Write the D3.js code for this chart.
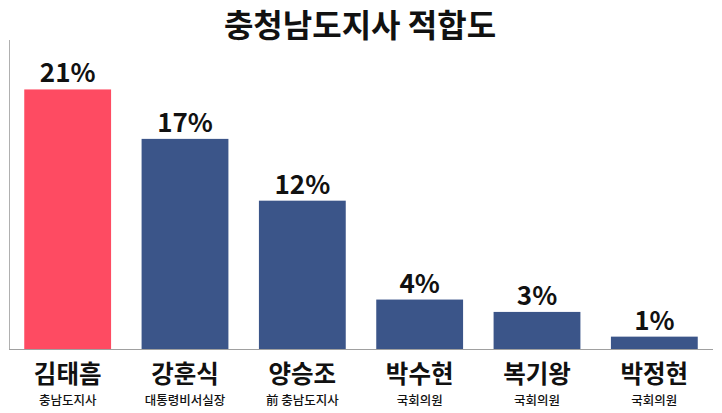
<!DOCTYPE html>
<html><head><meta charset="utf-8">
<script src="https://cdn.jsdelivr.net/npm/d3@7"></script>
<style>body{margin:0;background:#fff}svg{display:block}text{font-family:"Noto Sans CJK KR","Noto Sans",sans-serif}</style>
</head><body><svg id="c" width="722" height="413"></svg>
<script>
const title = "충청남도지사 적합도";
const names = ["김태흠","강훈식","양승조","박수현","복기왕","박정현"];
const roles = ["충남도지사","대통령비서실장","前 충남도지사","국회의원","국회의원","국회의원"];
const values = [21,17,12,4,3,1];
const colors = ["#FE4B62","#3B5589","#3B5589","#3B5589","#3B5589","#3B5589"];

const svg = d3.select("#c");
const pL = 9, pR = 713, pT = 40, pB = 349;
const x = d3.scaleBand().domain(names).range([pL,pR]).paddingInner(0.26).paddingOuter(0.13);
const y = d3.scaleLinear().domain([0,25]).range([pB,pT]);

svg.append("text").attr("x",360).attr("y",37).attr("text-anchor","middle")
  .attr("font-size",32).attr("font-weight","bold").attr("fill","#111").text(title);

svg.append("line").attr("x1",pL+0.5).attr("x2",pL+0.5).attr("y1",pT).attr("y2",pB).attr("stroke","#b0b0b0");
svg.append("line").attr("x1",pL).attr("x2",pR).attr("y1",pB+0.5).attr("y2",pB+0.5).attr("stroke","#a0a0a0");

const data = names.map((n,i)=>({n,r:roles[i],v:values[i],c:colors[i]}));
svg.selectAll("rect.bar").data(data).join("rect").attr("class","bar")
  .attr("x",d=>x(d.n)).attr("width",x.bandwidth())
  .attr("y",d=>y(d.v)).attr("height",d=>pB-y(d.v)).attr("fill",d=>d.c);

svg.selectAll("text.val").data(data).join("text").attr("class","val")
  .attr("x",d=>x(d.n)+x.bandwidth()/2).attr("y",d=>y(d.v)-7)
  .attr("text-anchor","middle").attr("font-size",26).attr("font-weight","bold").attr("fill","#111")
  .text(d=>d.v+"%");

svg.selectAll("text.name").data(data).join("text").attr("class","name")
  .attr("x",d=>x(d.n)+x.bandwidth()/2).attr("y",383)
  .attr("text-anchor","middle").attr("font-size",24.5).attr("font-weight","bold").attr("fill","#111")
  .text(d=>d.n);

svg.selectAll("text.role").data(data).join("text").attr("class","role")
  .attr("x",d=>x(d.n)+x.bandwidth()/2).attr("y",405)
  .attr("text-anchor","middle").attr("font-size",12.5).attr("font-weight",500).attr("fill","#111")
  .text(d=>d.r);
</script></body></html>
